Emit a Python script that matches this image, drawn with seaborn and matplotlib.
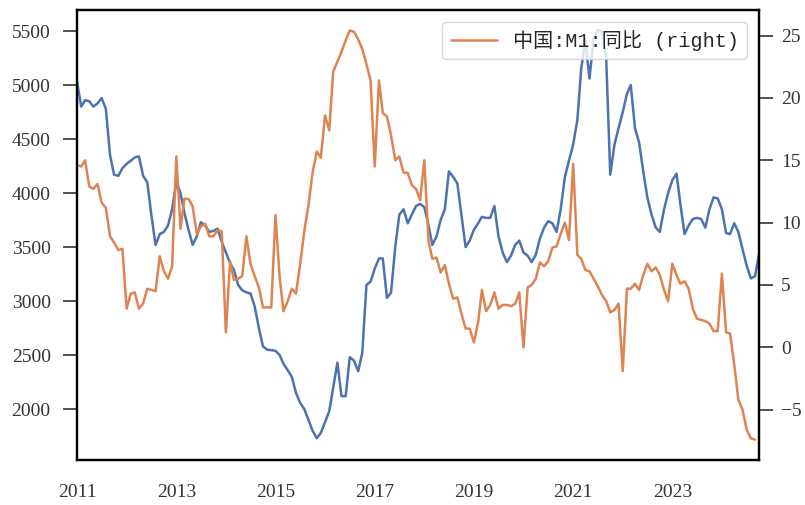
import pandas as pd
import numpy as np
import matplotlib
matplotlib.use("Agg")
import matplotlib.pyplot as plt
import matplotlib.dates as mdates
from matplotlib.lines import Line2D
import seaborn as sns

# monthly data, 2011-01 .. 2024-10
dates = pd.date_range("2011-01-01", "2024-10-01", freq="MS")

# left axis series (price level)
price = [
    5030, 4800, 4860, 4850, 4800, 4830, 4880, 4780, 4350, 4170, 4160, 4230,  # 2011
    4270, 4300, 4330, 4340, 4160, 4100, 3800, 3520, 3620, 3640, 3700, 3850,  # 2012
    4100, 4000, 3820, 3660, 3520, 3600, 3730, 3700, 3640, 3650, 3670, 3550,  # 2013
    3450, 3350, 3290, 3150, 3100, 3080, 3070, 2950, 2750, 2580, 2550, 2545,  # 2014
    2540, 2500, 2420, 2360, 2300, 2150, 2060, 2000, 1900, 1800, 1730, 1780,  # 2015
    1880, 1980, 2200, 2430, 2120, 2120, 2480, 2450, 2350, 2520, 3150, 3180,  # 2016
    3300, 3395, 3395, 3030, 3080, 3500, 3800, 3850, 3720, 3800, 3880, 3900,  # 2017
    3870, 3700, 3520, 3600, 3750, 3850, 4200, 4150, 4090, 3800, 3500, 3560,  # 2018
    3660, 3720, 3780, 3770, 3770, 3880, 3600, 3450, 3360, 3420, 3520, 3560,  # 2019
    3450, 3420, 3360, 3430, 3580, 3680, 3740, 3720, 3640, 3850, 4150, 4300,  # 2020
    4450, 4680, 5150, 5420, 5060, 5430, 5510, 5500, 5250, 4170, 4450, 4600,  # 2021
    4750, 4920, 5000, 4600, 4470, 4200, 3960, 3800, 3680, 3640, 3850, 4000,  # 2022
    4120, 4180, 3900, 3620, 3700, 3760, 3770, 3760, 3680, 3850, 3960, 3950,  # 2023
    3850, 3630, 3620, 3720, 3640, 3480, 3330, 3210, 3230, 3440,              # 2024
]

# right axis series: M1 year-on-year (%)
m1_yoy = [
    14.6, 14.5, 15.0, 12.9, 12.7, 13.1, 11.6, 11.2, 8.9, 8.4, 7.8, 7.9,
    3.1, 4.3, 4.4, 3.1, 3.5, 4.7, 4.6, 4.5, 7.3, 6.1, 5.5, 6.5,
    15.3, 9.5, 11.9, 11.9, 11.3, 9.1, 9.7, 9.9, 8.9, 8.9, 9.4, 9.3,
    1.2, 6.9, 5.4, 5.5, 5.7, 8.9, 6.7, 5.7, 4.8, 3.2, 3.2, 3.2,
    10.6, 5.6, 2.9, 3.7, 4.7, 4.3, 6.6, 9.3, 11.4, 14.0, 15.7, 15.2,
    18.6, 17.4, 22.1, 22.9, 23.7, 24.6, 25.4, 25.3, 24.7, 23.9, 22.7, 21.4,
    14.5, 21.4, 18.8, 18.5, 17.0, 15.0, 15.3, 14.0, 14.0, 13.0, 12.7, 11.8,
    15.0, 8.5, 7.1, 7.2, 6.0, 6.6, 5.1, 3.9, 4.0, 2.7, 1.5, 1.5,
    0.4, 2.0, 4.6, 2.9, 3.4, 4.4, 3.1, 3.4, 3.4, 3.3, 3.5, 4.4,
    0.0, 4.8, 5.0, 5.5, 6.8, 6.5, 6.9, 8.0, 8.1, 9.1, 10.0, 8.6,
    14.7, 7.4, 7.1, 6.2, 6.1, 5.5, 4.9, 4.2, 3.7, 2.8, 3.0, 3.5,
    -1.9, 4.7, 4.7, 5.1, 4.6, 5.8, 6.7, 6.1, 6.4, 5.8, 4.6, 3.7,
    6.7, 5.8, 5.1, 5.3, 4.7, 3.1, 2.3, 2.2, 2.1, 1.9, 1.3, 1.3,
    5.9, 1.2, 1.1, -1.4, -4.2, -5.0, -6.6, -7.3, -7.4, np.nan,
]

year_ticks = [2011, 2013, 2015, 2017, 2019, 2021, 2023]
label_right = "中国:M1:同比 (right)"

df = pd.DataFrame({"date": dates, "price": price, "m1": m1_yoy})

sns.set_theme(style="ticks")
plt.rcParams['font.family'] = ['Liberation Serif', 'Noto Sans CJK SC', 'DejaVu Sans']
plt.rcParams['axes.unicode_minus'] = True

blue = sns.color_palette("deep")[0]
orange = sns.color_palette("deep")[1]

fig, ax = plt.subplots(figsize=(8.05, 5.05), dpi=100)
fig.subplots_adjust(left=0.0957, right=0.943, bottom=0.089, top=0.980)

sns.lineplot(data=df, x="date", y="price", ax=ax, color=blue, linewidth=1.8, legend=False)
ax2 = ax.twinx()
sns.lineplot(data=df, x="date", y="m1", ax=ax2, color=orange, linewidth=1.8, legend=False)

ax.set_xlim(dates[0], dates[-1])
ax.set_ylim(1528, 5694)
ax2.set_ylim(-9.04, 27.04)
ax.set_yticks([2000, 2500, 3000, 3500, 4000, 4500, 5000, 5500])
ax2.set_yticks([-5, 0, 5, 10, 15, 20, 25])

ax.set_xticks([pd.Timestamp(f"{y}-01-01") for y in year_ticks])
ax.xaxis.set_major_formatter(mdates.DateFormatter("%Y"))
ax.set_xlabel("")
ax.set_ylabel("")
ax2.set_ylabel("")

for a in (ax, ax2):
    for sp in a.spines.values():
        sp.set_visible(True)
        sp.set_color("black")
        sp.set_linewidth(1.6)
ax.tick_params(axis="y", length=10, width=1.2, pad=9, labelsize=14, color="#333333", labelcolor="#333333")
ax2.tick_params(axis="y", length=10, width=1.2, pad=6, labelsize=14, color="#333333", labelcolor="#333333")
ax.tick_params(axis="x", length=0, pad=17, labelsize=14, labelcolor="#333333")

handle = Line2D([0], [0], color=orange, linewidth=1.8)
ax2.legend([handle], [label_right], loc="upper right", handlelength=2.3,
           prop={"family": ['Liberation Mono', 'Noto Sans CJK SC'], "size": 14.5},
           frameon=True, framealpha=0.8, edgecolor="#cccccc", fancybox=True,
           borderaxespad=0.6)

fig.savefig("out.png", dpi=100)
